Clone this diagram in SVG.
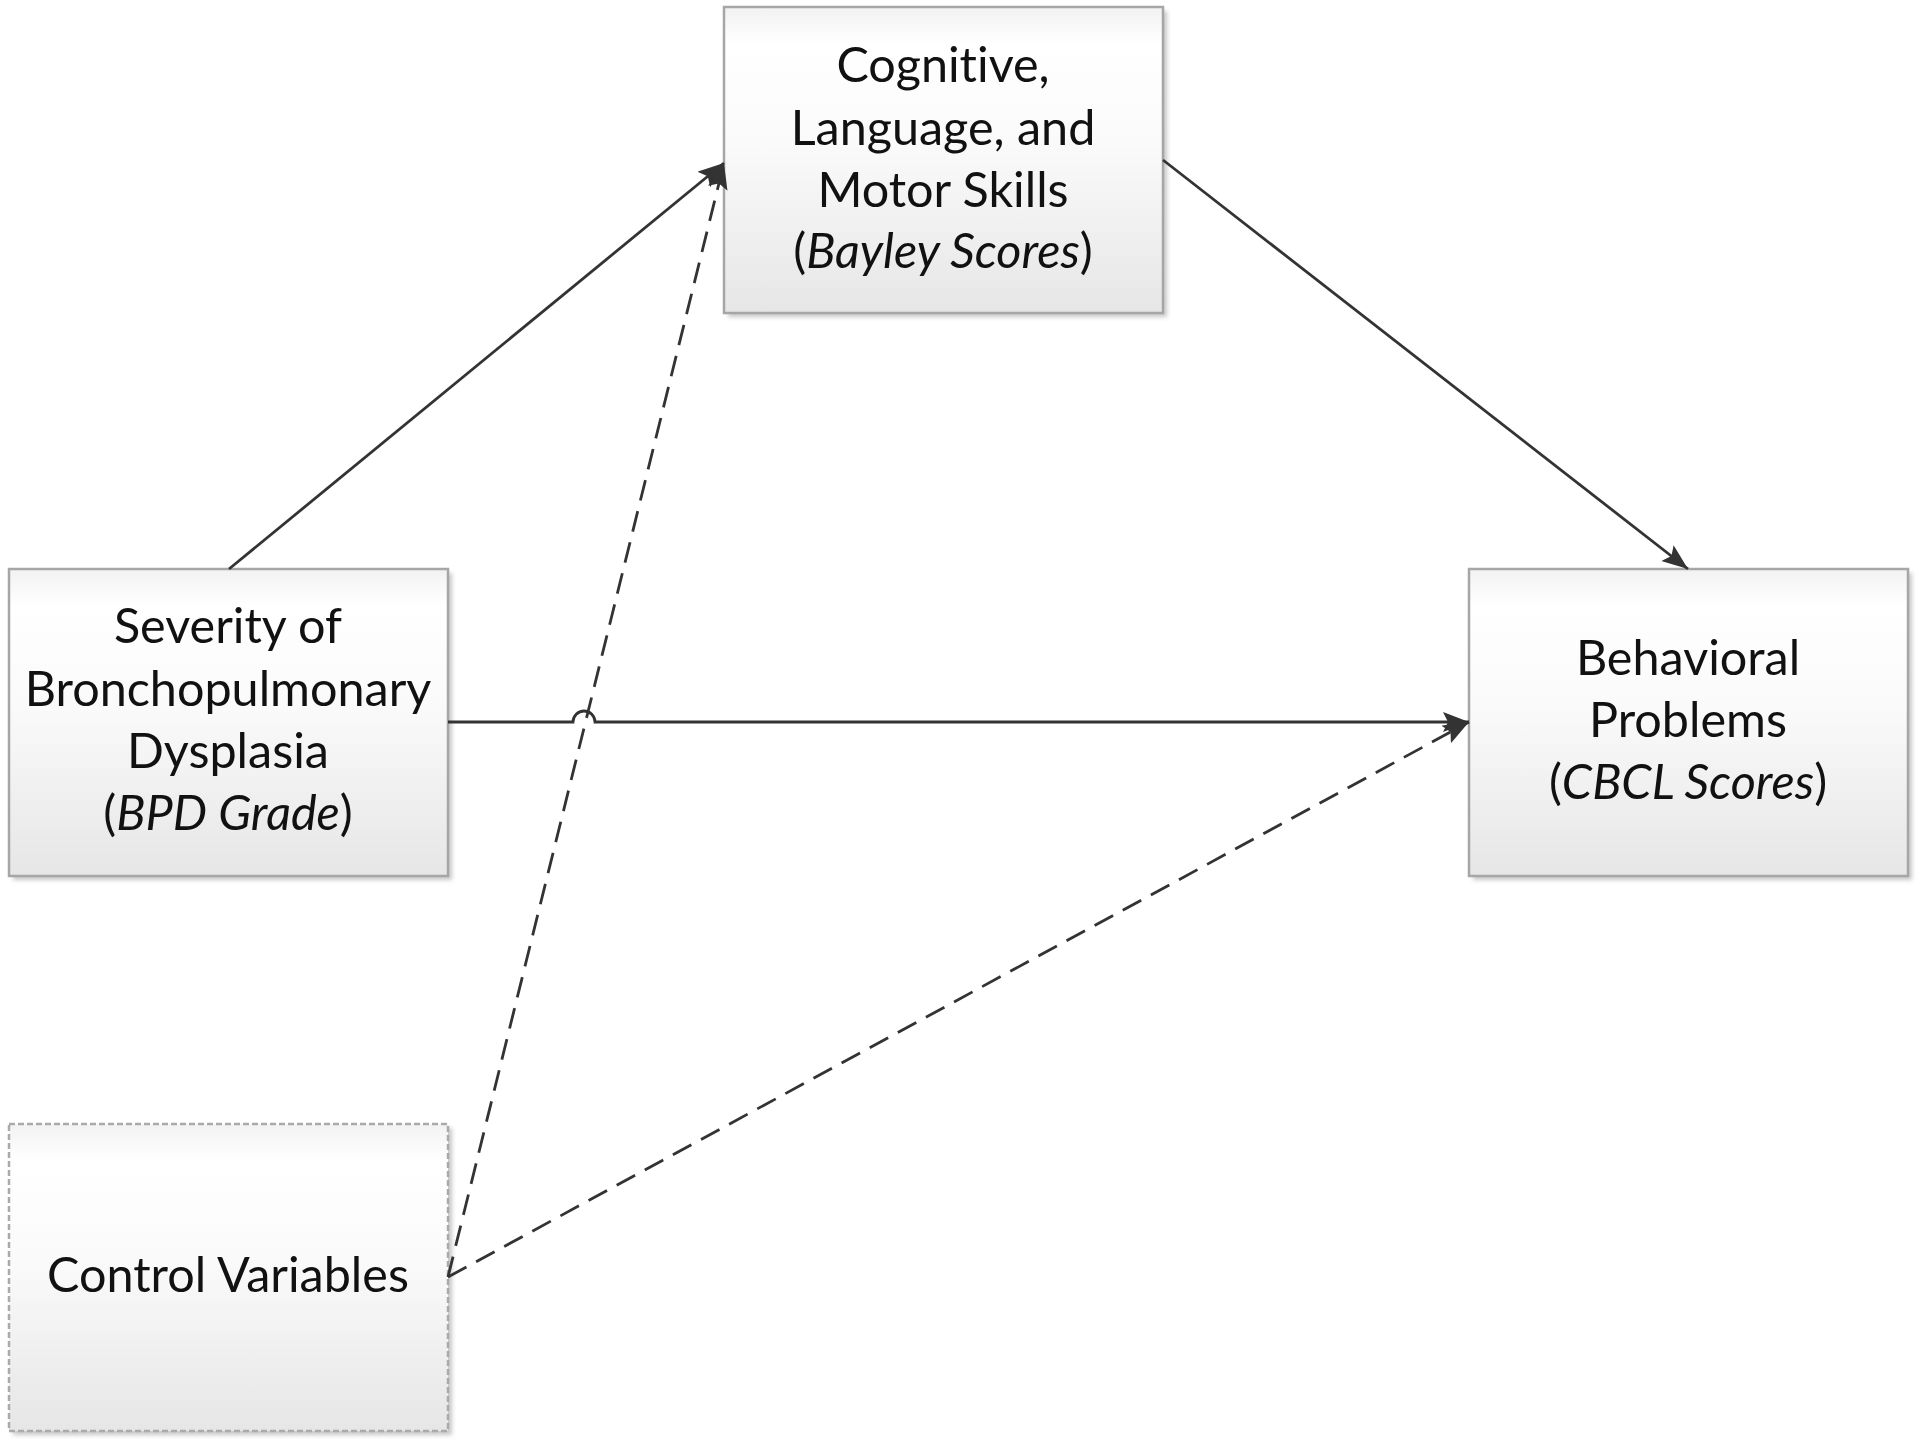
<svg xmlns="http://www.w3.org/2000/svg" width="1920" height="1445" viewBox="0 0 1920 1445">
<defs>
<linearGradient id="boxfill" x1="0" y1="0" x2="0" y2="1">
<stop offset="0" stop-color="#f2f2f2"/>
<stop offset="0.12" stop-color="#ffffff"/>
<stop offset="0.45" stop-color="#fafafa"/>
<stop offset="1" stop-color="#e6e6e6"/>
</linearGradient>
<filter id="shadow" x="-5%" y="-5%" width="115%" height="115%">
<feGaussianBlur stdDeviation="2"/>
</filter>
<marker id="arrow" markerUnits="userSpaceOnUse" markerWidth="28" markerHeight="22" refX="26" refY="10" orient="auto">
<path d="M0,0 L26,10 L0,20 L5,10 z" fill="#333333"/>
</marker>
</defs>
<style>
.shadow{fill:#c8c8c8;filter:url(#shadow);}
.box{fill:url(#boxfill);stroke:#a6a6a6;stroke-width:2.5;}
.dbox{fill:url(#boxfill);stroke:#aaaaaa;stroke-width:2.5;stroke-dasharray:6 3;}
.lbl{font-family:Lato,"Open Sans","Liberation Sans",sans-serif;font-size:48.5px;fill:#111111;text-anchor:middle;font-variant-ligatures:none;}
.it{font-style:italic;}
.conn{fill:none;stroke:#333333;stroke-width:2.8;}
.dash{stroke-dasharray:21 11;}
</style>
<rect width="1920" height="1445" fill="#ffffff"/>

<g id="node-skills">
<rect class="shadow" x="728" y="11" width="439" height="306"/>
<rect class="box" x="724" y="7" width="439" height="306"/>
<text class="lbl" x="943" y="82">Cognitive,</text>
<text class="lbl" x="943" y="145">Language, and</text>
<text class="lbl" x="943" y="207">Motor Skills</text>
<text class="lbl" x="943" y="268">(<tspan class="it">Bayley Scores</tspan>)</text>
</g>

<g id="node-bpd">
<rect class="shadow" x="13" y="573" width="439" height="307"/>
<rect class="box" x="9" y="569" width="439" height="307"/>
<text class="lbl" x="228" y="643">Severity of</text>
<text class="lbl" x="228" y="706">Bronchopulmonary</text>
<text class="lbl" x="228" y="768">Dysplasia</text>
<text class="lbl" x="228" y="830">(<tspan class="it">BPD Grade</tspan>)</text>
</g>

<g id="node-behavior">
<rect class="shadow" x="1473" y="573" width="439" height="307"/>
<rect class="box" x="1469" y="569" width="439" height="307"/>
<text class="lbl" x="1688" y="675">Behavioral</text>
<text class="lbl" x="1688" y="737">Problems</text>
<text class="lbl" x="1688" y="799">(<tspan class="it">CBCL Scores</tspan>)</text>
</g>

<g id="node-control">
<rect class="shadow" x="13" y="1128" width="439" height="307"/>
<rect class="dbox" x="9" y="1124" width="439" height="307"/>
<text class="lbl" x="228" y="1292">Control Variables</text>
</g>

<g id="connectors">
<path class="conn" d="M229,569 L724,163" marker-end="url(#arrow)"/>
<path class="conn" d="M1163,160 L1688,569" marker-end="url(#arrow)"/>
<path class="conn" d="M448,722 H573 A11,11 0 0 1 595,722 H1469" marker-end="url(#arrow)"/>
<path class="conn dash" d="M448,1277 L724,163" marker-end="url(#arrow)"/>
<path class="conn dash" d="M448,1277 L1469,722" marker-end="url(#arrow)"/>
</g>
</svg>
